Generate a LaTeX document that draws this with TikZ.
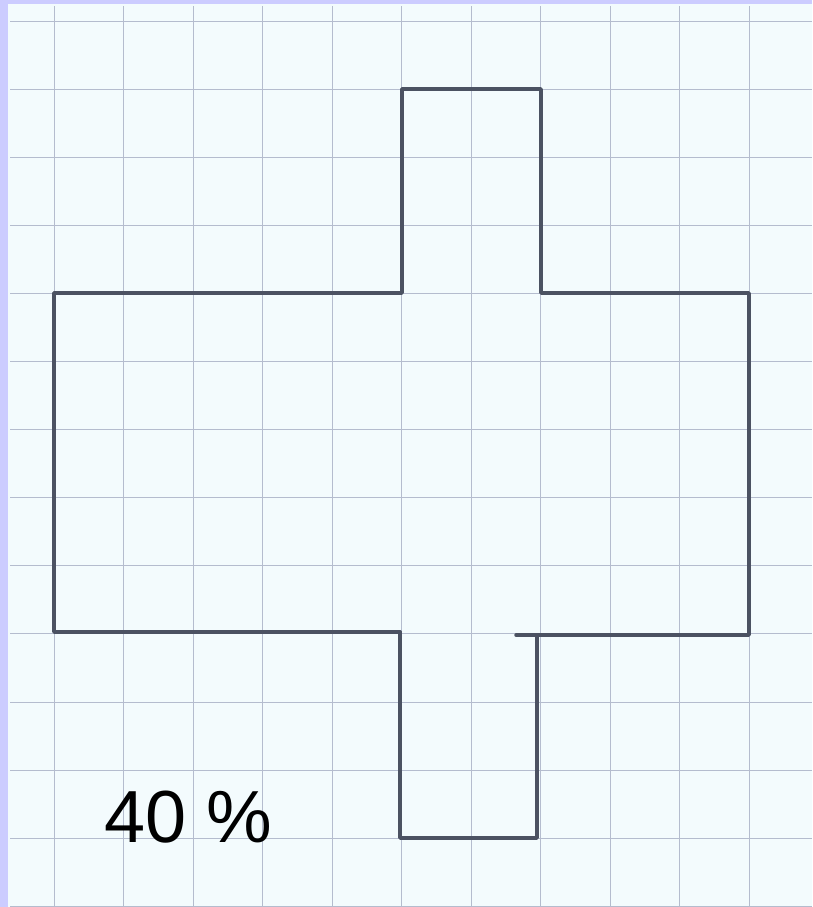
\documentclass[tikz,border=0pt]{standalone}
\usepackage{fontspec}
\setmainfont{Liberation Sans}
\definecolor{framec}{HTML}{CCCCFF}
\definecolor{paperc}{HTML}{F3FBFD}
\definecolor{gridc}{HTML}{B4BCCE}
\definecolor{penc}{HTML}{4B5262}
\begin{document}
\begin{tikzpicture}[x=0.03cm,y=-0.03cm,
	gridline/.style={draw=gridc,line width=0.75pt},
	penline/.style={draw=penc,line width=3pt,line join=round,line cap=round},
	labelb/.style={font=\fontsize{63}{70}\selectfont,inner sep=0pt,anchor=base west}]

	% paper and frame
	\useasboundingbox (0,0) rectangle (812,907);
	\fill[framec] (0,0) rectangle (812,907);
	\fill[paperc] (8,4) rectangle (812,907);

	% squared paper
	\foreach \i in {0,...,10}
	  \draw[gridline] ({54+69.5*\i},6) -- ({54+69.5*\i},907);
	\foreach \j in {0,...,13}
	  \draw[gridline] (10,{21+68.1*\j}) -- (812,{21+68.1*\j});

	% cross shape
	\coordinate (TL) at (54,293);
	\coordinate (UL) at (402,293);
	\coordinate (UTL) at (402,89);
	\coordinate (UTR) at (541,89);
	\coordinate (UR) at (541,293);
	\coordinate (TR) at (749,293);
	\coordinate (BR) at (749,635);
	\coordinate (LR) at (516,635);
	\coordinate (LRT) at (537,635);
	\coordinate (LBR) at (537,838);
	\coordinate (LBL) at (400,838);
	\coordinate (LL) at (400,632);
	\coordinate (BL) at (54,632);

	\draw[penline] (LL) -- (BL) -- (TL) -- (UL) -- (UTL) -- (UTR) -- (UR) -- (TR) -- (BR) -- (LR);
	\draw[penline] (LRT) -- (LBR) -- (LBL) -- (LL);

	\node[labelb] (Share) at (104,842) {40 \%};
\end{tikzpicture}
\end{document}
